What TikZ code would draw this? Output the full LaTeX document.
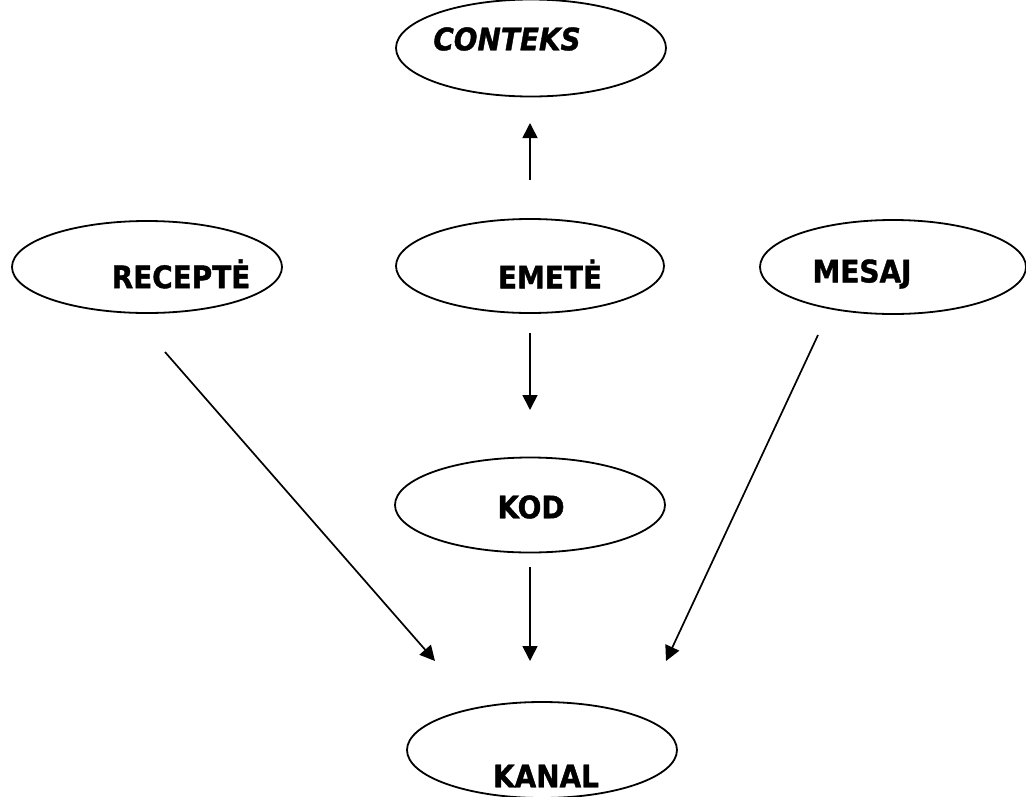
\documentclass[tikz,border=0pt]{standalone}
\usepackage{fontspec}
\setmainfont{DejaVu Sans}
\newfontfamily\lblfont[FakeBold=1.2]{DejaVu Sans Condensed Bold}
\newfontfamily\lblitfont[FakeBold=1.2]{DejaVu Sans Condensed Bold Oblique}
\usetikzlibrary{shapes.geometric,arrows.meta}
\begin{document}
\begin{tikzpicture}[x=1pt,y=-1pt,
  ell/.style={draw, ellipse, line width=1.8pt, inner sep=0pt},
  lbl/.style={font=\fontsize{31}{33}\lblfont, inner sep=0pt},
  arr/.style={line width=1.7pt, -{Triangle[length=15pt,width=15pt]}}]
\useasboundingbox (0,0) rectangle (1026,796);
% ellipses
\node[ell, minimum width=270, minimum height=97] (con) at (531,48) {};
\node[ell, minimum width=270, minimum height=92] (rec) at (147,267) {};
\node[ell, minimum width=268, minimum height=94] (eme) at (530,266) {};
\node[ell, minimum width=266, minimum height=94] (mes) at (893,267) {};
\node[ell, minimum width=270, minimum height=95] (kod) at (530,505) {};
\node[ell, minimum width=270, minimum height=96] (kan) at (542,750) {};
% labels
\node[lbl, font=\fontsize{31}{33}\lblitfont] (cont) at (507,39) {CONTEKS};
\node[lbl] (rect) at (181,274) {RECEPTĖ};
\node[lbl] (emet) at (550,274) {EMETĖ};
\node[lbl] (mest) at (862,274) {MESAJ};
\node[lbl] (kodt) at (531,507) {KOD};
\node[lbl] (kant) at (546,776) {KANAL};
% arrow endpoints
\coordinate (a1s) at (530,180); \coordinate (a1e) at (530,123);
\coordinate (a2s) at (530,333); \coordinate (a2e) at (530,410);
\coordinate (a3s) at (530,567); \coordinate (a3e) at (530,661);
\coordinate (a4s) at (165,352); \coordinate (a4e) at (435,661);
\coordinate (a5s) at (818,335); \coordinate (a5e) at (666,661);
\draw[arr] (a1s) -- (a1e);
\draw[arr] (a2s) -- (a2e);
\draw[arr] (a3s) -- (a3e);
\draw[arr] (a4s) -- (a4e);
\draw[arr] (a5s) -- (a5e);
\end{tikzpicture}
\end{document}
